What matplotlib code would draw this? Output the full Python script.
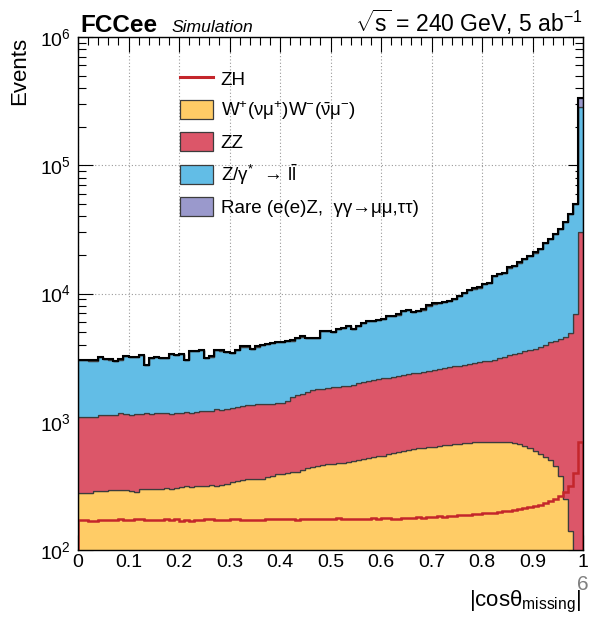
import numpy as np
import matplotlib
matplotlib.use("Agg")
import matplotlib.pyplot as plt
from matplotlib.lines import Line2D
from matplotlib.patches import Patch
from matplotlib.ticker import MultipleLocator, LogLocator, FuncFormatter

plt.rcParams['font.family'] = ['Liberation Sans', 'DejaVu Sans']
plt.rcParams['mathtext.fontset'] = 'custom'
plt.rcParams['mathtext.rm'] = 'Liberation Sans'
plt.rcParams['mathtext.it'] = 'Liberation Sans:italic'
plt.rcParams['mathtext.bf'] = 'Liberation Sans:bold'

# |cos(theta_missing)| binning: 100 bins on [0, 1]
n_bins = 100
x_range = (0.0, 1.0)

# Expected events per bin, 5 ab^-1 at 240 GeV
ww = [278, 280, 277, 289, 291, 288, 294, 293, 295, 292,
      286, 284, 298, 300, 297, 301, 299, 302, 300, 303,
      310, 313, 309, 314, 316, 318, 320, 317, 322, 330,
      337, 345, 352, 358, 356, 360, 358, 372, 380, 388,
      393, 398, 404, 408, 420, 432, 442, 450, 458, 465,
      470, 474, 480, 484, 492, 500, 514, 520, 530, 538,
      545, 556, 568, 580, 590, 602, 616, 622, 628, 632,
      640, 648, 655, 660, 666, 675, 680, 686, 690, 695,
      696, 698, 700, 698, 695, 690, 680, 665, 645, 620,
      590, 565, 535, 500, 455, 380, 250, 141, 20, 5]

zz = [812, 805, 815, 799, 834, 832, 836, 835, 865, 848,
      849, 866, 847, 860, 858, 864, 861, 868, 858, 872,
      870, 872, 869, 876, 899, 892, 900, 933, 923, 925,
      933, 955, 978, 992, 994, 1005, 1012, 1008, 995, 1002,
      1007, 1052, 1156, 1202, 1230, 1268, 1328, 1340, 1352, 1375,
      1380, 1396, 1410, 1416, 1458, 1490, 1536, 1560, 1590, 1612,
      1635, 1654, 1682, 1710, 1730, 1758, 1774, 1798, 1832, 1868,
      1890, 1922, 1955, 2000, 2034, 2065, 2090, 2124, 2170, 2245,
      2274, 2302, 2330, 2422, 2515, 2610, 2710, 2785, 2905, 3010,
      3130, 3285, 3465, 3650, 3795, 4020, 4350, 4759, 6880, 29990]

zgamma = [1940, 1945, 1908, 1912, 2045, 1950, 1920, 1862, 1890, 2130,
          2035, 2020, 2145, 1610, 1965, 2005, 1960, 1950, 2212, 2155,
          2190, 1845, 2392, 2380, 2415, 1910, 2000, 2380, 2345, 2245,
          2160, 2340, 2530, 2510, 2360, 2495, 2610, 2670, 2725, 2760,
          2750, 2780, 2740, 2880, 2970, 2790, 2720, 2700, 3250, 3220,
          3130, 3440, 3490, 3640, 3350, 3550, 3840, 3990, 3980, 4030,
          4140, 4420, 4450, 4550, 4940, 5030, 4740, 4840, 5030, 5560,
          5820, 5880, 5990, 6050, 6380, 6790, 7350, 7810, 8040, 8150,
          8830, 9100, 10670, 10980, 11290, 12600, 13010, 13950, 14950, 15970,
          17080, 18250, 20700, 22350, 24750, 27400, 31400, 36700, 43000, 256000]

rare = [12, 11, 13, 12, 12, 13, 11, 12, 13, 12,
        12, 13, 12, 11, 12, 13, 13, 12, 14, 13,
        13, 12, 14, 14, 13, 12, 13, 14, 14, 13,
        14, 15, 15, 16, 15, 16, 16, 17, 17, 17,
        18, 18, 19, 19, 20, 19, 20, 21, 22, 22,
        22, 23, 23, 24, 24, 25, 26, 26, 27, 28,
        28, 29, 30, 31, 32, 33, 33, 34, 36, 37,
        38, 40, 41, 43, 45, 47, 49, 52, 54, 57,
        60, 63, 67, 71, 75, 80, 86, 92, 99, 107,
        116, 127, 140, 156, 176, 202, 238, 290, 380, 46000]

zh = [172, 170, 169, 168, 170, 171, 170, 172, 173, 170,
      171, 175, 174, 170, 172, 171, 170, 173, 172, 174,
      168, 170, 169, 171, 172, 174, 173, 171, 172, 170,
      174, 173, 172, 170, 171, 170, 172, 173, 174, 175,
      175, 174, 173, 172, 173, 174, 175, 176, 176, 175,
      176, 177, 175, 174, 176, 175, 174, 176, 177, 176,
      178, 177, 175, 176, 178, 179, 178, 180, 179, 181,
      182, 183, 182, 184, 185, 186, 187, 188, 190, 191,
      193, 194, 196, 198, 200, 203, 206, 209, 212, 216,
      220, 226, 234, 242, 250, 262, 285, 317, 395, 690]

labels = ["ZH",
          r"W$^{+}$(νμ$^{+}$)W$^{-}$($\bar{\mathrm{\nu}}$μ$^{-}$)",
          "ZZ",
          r"Z/γ$^{*}$  → l$\bar{\mathrm{l}}$",
          "Rare (e(e)Z,  γγ→μμ,ττ)"]

x_ticks = [0, 0.1, 0.2, 0.3, 0.4, 0.5, 0.6, 0.7, 0.8, 0.9, 1]
y_limits = (1e2, 1e6)

c_ww = "#FFCC66"
c_zz = "#DC5669"
c_zg = "#62BDE6"
c_rare = "#9A99CC"
c_zh = "#C4262B"
c_edge = "#3c3c3c"

W, H = 597, 617
fig = plt.figure(figsize=(W / 100, H / 100), dpi=100)


def fx(px):
    return px / W


def fy(py):
    return 1 - py / H


ax = fig.add_axes([fx(78), fy(550), fx(583) - fx(78), fy(37) - fy(550)])
ax.set_yscale("log")
ax.set_xlim(*x_range)
ax.set_ylim(*y_limits)

edges = np.linspace(x_range[0], x_range[1], n_bins + 1)

# stacked backgrounds, bottom to top
base = np.zeros(n_bins)
for vals, col in [(ww, c_ww), (zz, c_zz), (zgamma, c_zg), (rare, c_rare)]:
    top = base + np.asarray(vals, dtype=float)
    ax.stairs(top, edges, baseline=base, fill=True, facecolor=col,
              edgecolor=c_edge, linewidth=0.9, zorder=2)
    base = top
ax.stairs(base, edges, baseline=None, color="black", linewidth=1.5, zorder=3)

# signal overlay
ax.stairs(np.asarray(zh, dtype=float), edges, baseline=0, color=c_zh,
          linewidth=1.8, zorder=4)

# grid and ticks
ax.grid(True, which="major", color="#9a9a9a", linestyle=(0, (1, 2)), linewidth=0.8)
ax.set_axisbelow(True)
ax.set_xticks(x_ticks)
ax.xaxis.set_minor_locator(MultipleLocator(0.02))
ax.xaxis.set_major_formatter(FuncFormatter(lambda v, p: "%g" % round(v, 2)))
ax.yaxis.set_major_locator(LogLocator(base=10, numticks=10))
ax.yaxis.set_minor_locator(LogLocator(base=10, subs=np.arange(2, 10), numticks=20))
ax.tick_params(which="both", direction="in", top=True, right=True, width=0.8,
               labelsize=14, color="black")
ax.tick_params(which="major", length=11)
ax.tick_params(which="minor", length=5.5)
ax.tick_params(axis="x", which="major", pad=3)
ax.tick_params(axis="y", which="major", pad=5)
for s in ax.spines.values():
    s.set_linewidth(1.0)
    s.set_zorder(5)

# legend
handles = [Line2D([], [], color=c_zh, linewidth=2.2),
           Patch(facecolor=c_ww, edgecolor=c_edge, linewidth=0.9),
           Patch(facecolor=c_zz, edgecolor=c_edge, linewidth=0.9),
           Patch(facecolor=c_zg, edgecolor=c_edge, linewidth=0.9),
           Patch(facecolor=c_rare, edgecolor=c_edge, linewidth=0.9)]
ax.legend(handles, labels, loc="upper left",
          bbox_to_anchor=(fx(180), fy(69)), bbox_transform=fig.transFigure,
          frameon=False, fontsize=13.5, handlelength=1.76, handleheight=1.18,
          handletextpad=0.42, labelspacing=0.55, borderpad=0, borderaxespad=0)

# titles and axis labels
fig.text(fx(80), fy(32), "FCCee", fontsize=17.5, fontweight="bold",
         ha="left", va="baseline")
fig.text(fx(171), fy(32), "Simulation", fontsize=12.6, fontstyle="italic",
         ha="left", va="baseline")
fig.text(fx(583), fy(32), r"$\sqrt{\mathrm{s}}$ = 240 GeV, 5 ab$^{-1}$", fontsize=16.5,
         ha="right", va="baseline")
fig.text(fx(20), fy(37), "Events", fontsize=16, rotation=90,
         ha="center", va="top")
fig.text(fx(581), fy(606), r"|cos$\mathrm{\theta}_{\mathrm{missing}}$|",
         fontsize=16, ha="right", va="baseline")
fig.text(fx(583), fy(590), "6", fontsize=15, color="#808080",
         ha="center", va="baseline")

fig.savefig("out.png", dpi=100)
